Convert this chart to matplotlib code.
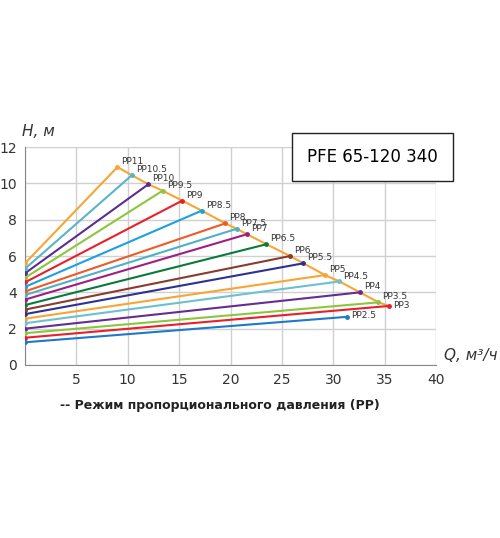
import matplotlib
matplotlib.use("Agg")
import matplotlib.pyplot as plt

names = ["PP11","PP10.5","PP10","PP9.5","PP9","PP8.5","PP8","PP7.5","PP7","PP6.5","PP6","PP5.5","PP5","PP4.5","PP4","PP3.5","PP3","PP2.5"]
h0 = [5.6,5.3,5.05,4.8,4.55,4.3,4.05,3.85,3.6,3.3,3.05,2.8,2.55,2.3,2.0,1.75,1.5,1.25]
q_end = [9.0,10.4,12.0,13.4,15.3,17.2,19.5,20.6,21.6,23.5,25.8,27.1,29.2,30.6,32.6,34.4,35.4,31.3]
h_end = [10.9,10.45,9.95,9.6,9.05,8.5,7.8,7.5,7.2,6.65,6.0,5.6,4.95,4.6,4.0,3.45,3.25,2.65]
colors = ["#f7a535","#5ab4c8","#5b2d91","#8cc63f","#e8202a","#1f9fe0","#f05a28","#4fb0c6","#9e1f81","#0a7a3c","#8b3a2e","#2e3192","#f7a535","#6cc0d0","#662d91","#8cc63f","#e8202a","#1f78c8"]

fig = plt.figure(figsize=(5,5.38), dpi=100)
ax = fig.add_axes([0.05,0.3216,0.822,0.405])
ax.set_xlim(0,40); ax.set_ylim(0,12)
ax.set_xticks(range(0,41,5)); ax.set_yticks(range(0,13,2))
ax.set_xticklabels(["","5","10","15","20","25","30","35","40"])
ax.grid(True,color="#d0d0d0",lw=1)
for s in ["top","right"]: ax.spines[s].set_visible(False)
for s in ["left","bottom"]: ax.spines[s].set_color("#888888")
ax.tick_params(length=0,labelsize=10,colors="#333333",pad=6)
for n,a,q,h,c in zip(names,h0,q_end,h_end,colors):
    ax.plot([0,q],[a,h],color=c,lw=1.5,zorder=3)
    ax.plot([0,q],[a,h],'o',color=c,ms=2.5,zorder=4)
    ax.text(q+0.4,h+0.05,n,fontsize=6.5,color="#333333",va="bottom" if n not in ("PP3","PP2.5") else "center")
ax.plot(q_end[:17],h_end[:17],color="#f7a535",lw=1.5,zorder=2)
ax.text(-0.3,12.6,"H, м",fontsize=11,style="italic",ha="left",color="#333333")
ax.text(40.8,0.3,"Q, м³/ч",fontsize=11,style="italic",ha="left",color="#333333")
fig.text(0.745,0.708,"PFE 65-120 340",fontsize=12,ha="center",va="center",
         bbox=dict(boxstyle="square,pad=0.9",fc="white",ec="#222222",lw=1))
fig.text(0.12,0.24,"-- Режим пропорционального давления (PP)",fontsize=9,fontweight="bold",color="#222222")
fig.savefig("out.png",dpi=100)
